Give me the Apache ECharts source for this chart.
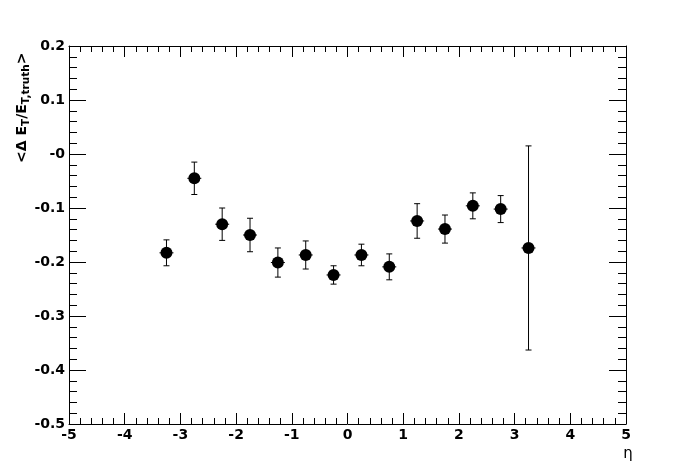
<!DOCTYPE html>
<html>
<head>
<meta charset="utf-8">
<script src="https://cdn.jsdelivr.net/npm/echarts@6/dist/echarts.min.js"></script>
<style>
  html, body { margin: 0; padding: 0; background: #fff; }
  #chart { width: 696px; height: 472px; }
</style>
</head>
<body>
<div id="chart"></div>
<script>
// ---- data ----
const etaBins = [-3.25, -2.75, -2.25, -1.75, -1.25, -0.75, -0.25, 0.25, 0.75, 1.25, 1.75, 2.25, 2.75, 3.25];
const meanValues = [-0.183, -0.045, -0.130, -0.150, -0.201, -0.187, -0.224, -0.187, -0.209, -0.124, -0.139, -0.096, -0.102, -0.174];
const errValues = [0.024, 0.030, 0.030, 0.031, 0.027, 0.026, 0.017, 0.020, 0.024, 0.032, 0.026, 0.024, 0.025, 0.189];
const xTitle = 'η';

const FONT = "'DejaVu Sans', 'Liberation Sans', Arial, sans-serif";

const points = etaBins.map((x, i) => [x, meanValues[i]]);
const errData = etaBins.map((x, i) => [x, meanValues[i], errValues[i]]);

function yFmt(v) {
  const r = Math.round(v * 10) / 10;
  if (Math.abs(r) < 1e-9) return '-0';
  return r.toFixed(1);
}

const chart = echarts.init(document.getElementById('chart'), null, { renderer: 'canvas' });

const baseX = {
  type: 'value', min: -5, max: 5, interval: 1,
  axisLine: { show: true, onZero: false, lineStyle: { color: '#000', width: 1 } },
  axisTick: { show: true, inside: true, length: 11, lineStyle: { color: '#000', width: 1 } },
  minorTick: { show: true, splitNumber: 5, length: 6, lineStyle: { color: '#000', width: 1 } },
  splitLine: { show: false },
  minorSplitLine: { show: false }
};
const baseY = {
  type: 'value', min: -0.5, max: 0.2, interval: 0.1,
  axisLine: { show: true, onZero: false, lineStyle: { color: '#000', width: 1 } },
  axisTick: { show: true, inside: true, length: 17, lineStyle: { color: '#000', width: 1 } },
  minorTick: { show: true, splitNumber: 5, length: 8, lineStyle: { color: '#000', width: 1 } },
  splitLine: { show: false },
  minorSplitLine: { show: false }
};

const option = {
  backgroundColor: '#fff',
  animation: false,
  grid: { left: 69, right: 70, top: 46, bottom: 48, containLabel: false },
  xAxis: [
    Object.assign({}, baseX, {
      position: 'bottom',
      axisLabel: { show: true, color: '#000', fontFamily: FONT, fontWeight: 'bold', fontSize: 14, margin: 4 }
    }),
    Object.assign({}, baseX, {
      position: 'top',
      axisLabel: { show: false }
    })
  ],
  yAxis: [
    Object.assign({}, baseY, {
      position: 'left',
      axisLabel: { show: true, color: '#000', fontFamily: FONT, fontWeight: 'bold', fontSize: 14, margin: 4, formatter: yFmt }
    }),
    Object.assign({}, baseY, {
      position: 'right',
      axisLabel: { show: false }
    })
  ],
  series: [
    {
      type: 'custom',
      xAxisIndex: 0, yAxisIndex: 0,
      data: errData,
      z: 2,
      renderItem: function (params, api) {
        const x = api.value(0), y = api.value(1), e = api.value(2);
        const top = api.coord([x, y + e]);
        const bot = api.coord([x, y - e]);
        const mid = api.coord([x, y]);
        const cap = 3;
        const st = { stroke: '#000', lineWidth: 1 };
        return {
          type: 'group',
          children: [
            { type: 'line', shape: { x1: top[0], y1: top[1], x2: bot[0], y2: bot[1] }, style: st },
            { type: 'line', shape: { x1: top[0] - cap, y1: top[1], x2: top[0] + cap, y2: top[1] }, style: st },
            { type: 'line', shape: { x1: bot[0] - cap, y1: bot[1], x2: bot[0] + cap, y2: bot[1] }, style: st },
            { type: 'line', shape: { x1: mid[0] - 7, y1: mid[1], x2: mid[0] + 7, y2: mid[1] }, style: st }
          ]
        };
      }
    },
    {
      type: 'scatter',
      xAxisIndex: 0, yAxisIndex: 0,
      data: points,
      symbol: 'circle',
      symbolSize: 12,
      itemStyle: { color: '#000', opacity: 1 },
      z: 3
    }
  ],
  graphic: [
    {
      type: 'text',
      x: 22, y: 163,
      rotation: Math.PI / 2,
      style: {
        text: '{m|<Δ E}{s|T}{m|/E}{s|T,truth}{m|>}',
        align: 'left',
        verticalAlign: 'middle',
        fill: '#000',
        rich: {
          m: { fontFamily: FONT, fontWeight: 'bold', fontSize: 14, lineHeight: 20, verticalAlign: 'middle', fill: '#000' },
          s: { fontFamily: FONT, fontWeight: 'bold', fontSize: 10.5, lineHeight: 20, verticalAlign: 'bottom', fill: '#000' }
        }
      }
    },
    {
      type: 'text',
      x: 628, y: 454,
      style: {
        text: xTitle,
        align: 'center',
        verticalAlign: 'middle',
        fontFamily: FONT,
        fontSize: 15,
        fill: '#000'
      }
    }
  ]
};

chart.setOption(option);
</script>
</body>
</html>
